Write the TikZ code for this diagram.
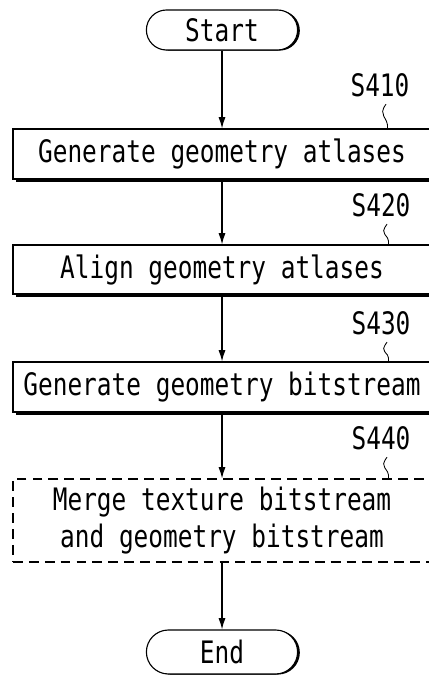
\documentclass[tikz,border=0pt]{standalone}
\usepackage{fontspec}
\usepackage{tikz}
\usetikzlibrary{shapes,arrows,positioning,calc,shadows,arrows.meta}
\newfontfamily\flowfont[FakeStretch=0.79]{DejaVu Sans Mono}

\begin{document}
\begin{tikzpicture}[
    font=\flowfont\fontsize{22}{26.2}\selectfont,
    termnode/.style={rectangle, draw, fill=white, line width=0.8pt, rounded corners=0.5cm,
        minimum width=3.78cm, minimum height=1.0cm, inner sep=0pt,
        drop shadow={shadow xshift=1.6pt, shadow yshift=-0.4pt, opacity=1, fill=black}},
    stepnode/.style={rectangle, draw, fill=white, line width=0.8pt, minimum width=10.45cm,
        inner sep=0pt,
        drop shadow={shadow xshift=2pt, shadow yshift=-2.3pt, opacity=1, fill=black}},
    optnode/.style={rectangle, draw, dash pattern=on 7pt off 4.3pt, line width=0.8pt,
        minimum width=10.45cm, minimum height=2.075cm, inner sep=0pt, align=center},
    steplabel/.style={inner sep=0pt},
    arrow/.style={-{Latex[length=8pt,width=5pt]}, line width=0.8pt},
    tilde/.style={line width=0.6pt}
]
    \useasboundingbox (0,0) rectangle (10.7,17.025);

    \node[termnode] (start) at (5.55, 16.275) {Start};

    \node[stepnode, minimum height=1.25cm] (gen) at (5.55, 13.175) {Generate geometry atlases};
    \node[stepnode, minimum height=1.225cm] (align) at (5.55, 10.2875) {Align geometry atlases};
    \node[stepnode, minimum height=1.25cm] (bits) at (5.55, 7.35) {Generate geometry bitstream};
    \node[optnode] (merge) at (5.55, 4.0125) {Merge texture bitstream\\and geometry bitstream};

    \node[termnode, minimum height=1.1cm, rounded corners=0.55cm] (end) at (5.55, 0.725) {End};

    % step numbers
    \node[steplabel] (s410) at (9.5, 14.9) {S410};
    \node[steplabel] (s420) at (9.525, 11.9) {S420};
    \node[steplabel] (s430) at (9.525, 8.95) {S430};
    \node[steplabel] (s440) at (9.525, 6.075) {S440};

    \draw[tilde] ([shift={(0.15,-0.18)}]s410.south) .. controls +(-0.22,-0.3) and +(0.02,0.3) .. ([xshift=0.19cm]s410.south |- gen.north);
    \draw[tilde] ([shift={(0.15,-0.18)}]s420.south) .. controls +(-0.22,-0.3) and +(0.02,0.3) .. ([xshift=0.19cm]s420.south |- align.north);
    \draw[tilde] ([shift={(0.15,-0.18)}]s430.south) .. controls +(-0.22,-0.3) and +(0.02,0.3) .. ([xshift=0.19cm]s430.south |- bits.north);
    \draw[tilde] ([shift={(0.15,-0.18)}]s440.south) .. controls +(-0.22,-0.3) and +(0.02,0.3) .. ([xshift=0.19cm]s440.south |- merge.north);

    \draw[arrow] (start) -- (gen);
    \draw[arrow] (gen) -- (align);
    \draw[arrow] (align) -- (bits);
    \draw[arrow] (bits) -- (merge);
    \draw[arrow] (merge) -- (end);
\end{tikzpicture}
\end{document}
